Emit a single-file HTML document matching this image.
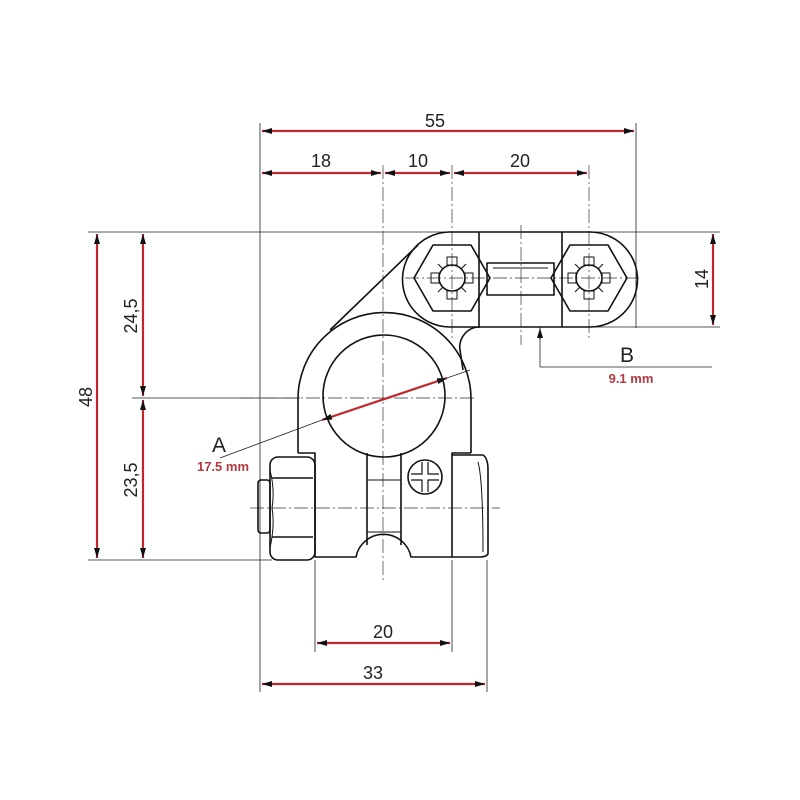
<!DOCTYPE html>
<html><head><style>html,body{margin:0;padding:0;background:#fff}svg{display:block}</style></head><body>
<svg width="800" height="800" viewBox="0 0 800 800" xmlns="http://www.w3.org/2000/svg" font-family="Liberation Sans, sans-serif">
<defs>
<marker id="ar" viewBox="0 0 10 6" refX="10" refY="3" markerWidth="10" markerHeight="6" orient="auto-start-reverse" markerUnits="userSpaceOnUse"><path d="M0,0 L10,3 L0,6 Z" fill="#111"/></marker>
</defs>
<rect width="800" height="800" fill="#fff"/>
<g stroke="#222" stroke-width="0.8" fill="none">
<line x1="260" y1="123" x2="260" y2="692"/>
<line x1="636" y1="123" x2="636" y2="328"/>
<line x1="88" y1="232" x2="720" y2="232"/>
<line x1="88" y1="560" x2="272" y2="560"/>
<line x1="132" y1="398" x2="300" y2="398"/>
<line x1="480" y1="327" x2="720" y2="327"/>
<line x1="315" y1="560" x2="315" y2="652"/>
<line x1="452" y1="560" x2="452" y2="652"/>
<line x1="487" y1="560" x2="487" y2="692"/>
<line x1="540" y1="327" x2="540" y2="367"/>
<line x1="540" y1="367" x2="712" y2="367"/>
<line x1="220" y1="458" x2="322" y2="420"/>
<line x1="447" y1="378" x2="470" y2="370"/>
</g>
<g stroke="#333" stroke-width="0.7" fill="none" stroke-dasharray="14,3,2,3">
<line x1="383" y1="165" x2="383" y2="580"/>
<line x1="452" y1="165" x2="452" y2="340"/>
<line x1="589" y1="165" x2="589" y2="340"/>
<line x1="521" y1="225" x2="521" y2="345"/>
<line x1="240" y1="398" x2="475" y2="398"/>
<line x1="250" y1="508" x2="500" y2="508"/>
<line x1="405" y1="278" x2="640" y2="278"/>
</g>
<g stroke="#111" stroke-width="1.6" fill="none" stroke-linejoin="round">
<path d="M298,453 L298,399 A86,86 0 0 1 471,399 L471,453"/>
<path d="M298,453 L315,453 L315,557 L356,557 A28,28 0 0 1 411,557 L452,557 L452,453 L471,453"/>
<circle cx="384" cy="396" r="61"/>
<path d="M367,453 L367,545 M401,453 L401,545"/>
<path d="M367,480 L401,480 M367,532 L401,532" stroke-width="1"/>
<path d="M330,330 L418,245"/>
<path d="M450,232 L590,232 A47.5,47.5 0 0 1 590,327 L480,327 A20,20 0 0 0 460,350 L463,370"/>
<path d="M450,232 A47.5,47.5 0 0 0 450,327 L480,327"/>
<line x1="479" y1="232" x2="479" y2="327"/>
<line x1="562" y1="232" x2="562" y2="327"/>
<polygon points="414,278 433,245 471,245 490,278 471,311 433,311"/>
<polygon points="551,278 570,245 608,245 627,278 608,311 570,311"/>
<circle cx="452" cy="278" r="13"/><circle cx="589" cy="278" r="13"/>
<rect x="487" y="263" width="67" height="32"/>
<line x1="493" y1="268" x2="548" y2="268" stroke-width="1"/>
<g stroke-width="1">
<rect x="447" y="257" width="10" height="8"/><rect x="447" y="291" width="10" height="8"/>
<rect x="431" y="273" width="8" height="10"/><rect x="465" y="273" width="8" height="10"/>
<rect x="584" y="257" width="10" height="8"/><rect x="584" y="291" width="10" height="8"/>
<rect x="568" y="273" width="8" height="10"/><rect x="602" y="273" width="8" height="10"/>
<path d="M438,264 L443,269 M466,264 L461,269 M438,292 L443,287 M466,292 L461,287"/>
<path d="M575,264 L580,269 M603,264 L598,269 M575,292 L580,287 M603,292 L598,287"/>
</g>
<path d="M452,455 L483,455 Q488,458 488,470 L488,554 Q486,557 480,557 L452,557"/>
<path d="M478,462 Q483,480 483,552" stroke-width="1"/>
<rect x="270" y="457" width="45" height="103" rx="8"/>
<line x1="272" y1="478" x2="313" y2="478"/><line x1="272" y1="537" x2="313" y2="537"/>
<path d="M270,470 Q275,490 272,508 Q275,525 270,548" stroke-width="1"/>
<rect x="258" y="480" width="12" height="53" rx="3"/>
<circle cx="425" cy="477" r="17"/>
<path d="M411,474 L422,474 L422,462 M428,462 L428,474 L439,474 M439,480 L428,480 L428,492 M422,492 L422,480 L411,480" stroke-width="1.2"/>
</g>
<g stroke="#c0272d" stroke-width="2.2" fill="none">
<line x1="262" y1="131" x2="634" y2="131" marker-start="url(#ar)" marker-end="url(#ar)"/>
<line x1="262" y1="173" x2="381" y2="173" marker-start="url(#ar)" marker-end="url(#ar)"/>
<line x1="385" y1="173" x2="450" y2="173" marker-start="url(#ar)" marker-end="url(#ar)"/>
<line x1="454" y1="173" x2="587" y2="173" marker-start="url(#ar)" marker-end="url(#ar)"/>
<line x1="97" y1="234" x2="97" y2="558" marker-start="url(#ar)" marker-end="url(#ar)"/>
<line x1="143" y1="234" x2="143" y2="396" marker-start="url(#ar)" marker-end="url(#ar)"/>
<line x1="143" y1="400" x2="143" y2="558" marker-start="url(#ar)" marker-end="url(#ar)"/>
<line x1="713" y1="234" x2="713" y2="325" marker-start="url(#ar)" marker-end="url(#ar)"/>
<line x1="317" y1="643" x2="450" y2="643" marker-start="url(#ar)" marker-end="url(#ar)"/>
<line x1="262" y1="684" x2="485" y2="684" marker-start="url(#ar)" marker-end="url(#ar)"/>
<line x1="322" y1="420" x2="447" y2="378" marker-start="url(#ar)" marker-end="url(#ar)"/>
</g>
<line x1="540" y1="340" x2="540" y2="328" stroke="#111" stroke-width="1" marker-end="url(#ar)"/>
<g fill="#222" font-size="18" text-anchor="middle">
<text x="435" y="127">55</text>
<text x="321" y="167">18</text>
<text x="418" y="167">10</text>
<text x="520" y="167">20</text>
<text x="383" y="638">20</text>
<text x="373" y="679">33</text>
<text transform="translate(92,397) rotate(-90)">48</text>
<text transform="translate(137,316) rotate(-90)">24,5</text>
<text transform="translate(137,480) rotate(-90)">23,5</text>
<text transform="translate(708,279) rotate(-90)">14</text>
<text x="219" y="452" font-size="21">A</text>
<text x="627" y="362" font-size="21">B</text>
</g>
<g fill="#b5383e" font-size="13" font-weight="bold" text-anchor="middle">
<text x="223" y="471">17.5 mm</text>
<text x="631" y="383">9.1 mm</text>
</g>
</svg>
</body></html>
